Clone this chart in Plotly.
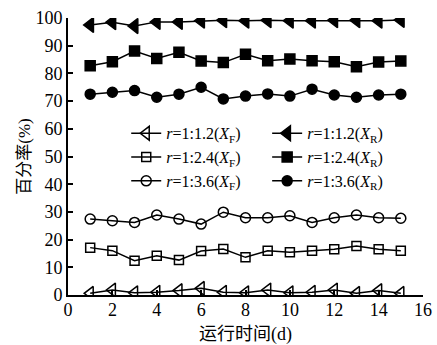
import plotly.graph_objects as go

days = list(range(1, 16))

xf_12 = [0.6, 1.8, 0.8, 1.0, 1.6, 2.4, 1.0, 0.8, 1.8, 0.8, 1.0, 1.8, 0.6, 1.6, 0.6]
xf_24 = [17.1, 16.0, 12.4, 14.2, 12.6, 15.9, 16.6, 13.6, 16.0, 15.4, 16.0, 16.5, 17.7, 16.5, 16.0]
xf_36 = [27.4, 26.8, 26.2, 28.9, 27.4, 25.6, 29.9, 27.9, 27.9, 28.6, 26.2, 27.9, 28.9, 27.9, 27.7]
xr_12 = [97.5, 98.5, 97.1, 98.6, 98.6, 99.0, 99.2, 99.0, 99.2, 99.0, 99.0, 99.2, 99.2, 99.0, 99.3]
xr_24 = [82.8, 84.2, 88.1, 85.4, 87.6, 84.5, 83.9, 86.9, 84.6, 85.2, 84.6, 84.2, 82.4, 84.1, 84.5]
xr_36 = [72.5, 73.2, 73.8, 71.4, 72.5, 75.0, 70.8, 71.8, 72.6, 71.8, 74.3, 72.2, 71.4, 72.2, 72.5]

names_f = ["<i>r</i>=1:1.2(<i>X</i><sub>F</sub>)",
           "<i>r</i>=1:2.4(<i>X</i><sub>F</sub>)",
           "<i>r</i>=1:3.6(<i>X</i><sub>F</sub>)"]
names_r = ["<i>r</i>=1:1.2(<i>X</i><sub>R</sub>)",
           "<i>r</i>=1:2.4(<i>X</i><sub>R</sub>)",
           "<i>r</i>=1:3.6(<i>X</i><sub>R</sub>)"]

FONT = "Liberation Serif, Times New Roman, Noto Sans CJK SC, serif"

fig = go.Figure()

def add(y, name, symbol, size, legend):
    fig.add_trace(go.Scatter(
        x=days, y=y, name=name, mode="lines+markers",
        line=dict(color="black", width=1.5),
        marker=dict(symbol=symbol, size=size, color="black",
                    line=dict(color="black", width=1.5)),
        legend=legend,
    ))

add(xf_12, names_f[0], "triangle-left-open", 12, "legend")
add(xf_24, names_f[1], "square-open", 9, "legend")
add(xf_36, names_f[2], "circle-open", 10, "legend")
add(xr_12, names_r[0], "triangle-left", 13, "legend2")
add(xr_24, names_r[1], "square", 10, "legend2")
add(xr_36, names_r[2], "circle", 10, "legend2")

fig.update_layout(
    width=437, height=345,
    margin=dict(l=68, r=14, t=18, b=50),
    paper_bgcolor="white", plot_bgcolor="white",
    font=dict(family=FONT, size=17, color="black"),
    showlegend=True,
    legend=dict(x=0.164, y=0.645, xanchor="left", yanchor="top",
                bgcolor="rgba(0,0,0,0)", font=dict(size=16), tracegroupgap=0,
                itemwidth=30),
    legend2=dict(x=0.561, y=0.645, xanchor="left", yanchor="top",
                 bgcolor="rgba(0,0,0,0)", font=dict(size=16), tracegroupgap=0,
                 itemwidth=30),
    xaxis=dict(range=[0, 16], dtick=2, tick0=0, showgrid=False, zeroline=False,
               showline=True, linecolor="black", linewidth=2, automargin=False,
               ticks="inside", ticklen=5, tickwidth=1.5, tickcolor="black",
               tickfont=dict(size=18), ticklabelstandoff=-3,
               title=dict(text="运行时间(d)", font=dict(size=18), standoff=9)),
    yaxis=dict(range=[0, 100], dtick=10, tick0=0, showgrid=False, zeroline=False,
               showline=True, linecolor="black", linewidth=2, automargin=False,
               ticks="inside", ticklen=5, tickwidth=1.5, tickcolor="black",
               tickfont=dict(size=18),
               title=dict(text="百分率(%)", font=dict(size=17), standoff=0)),
)

fig.write_html("out.html", config={"displayModeBar": False},
               post_script="document.body.style.margin='0';document.body.style.padding='0';")
